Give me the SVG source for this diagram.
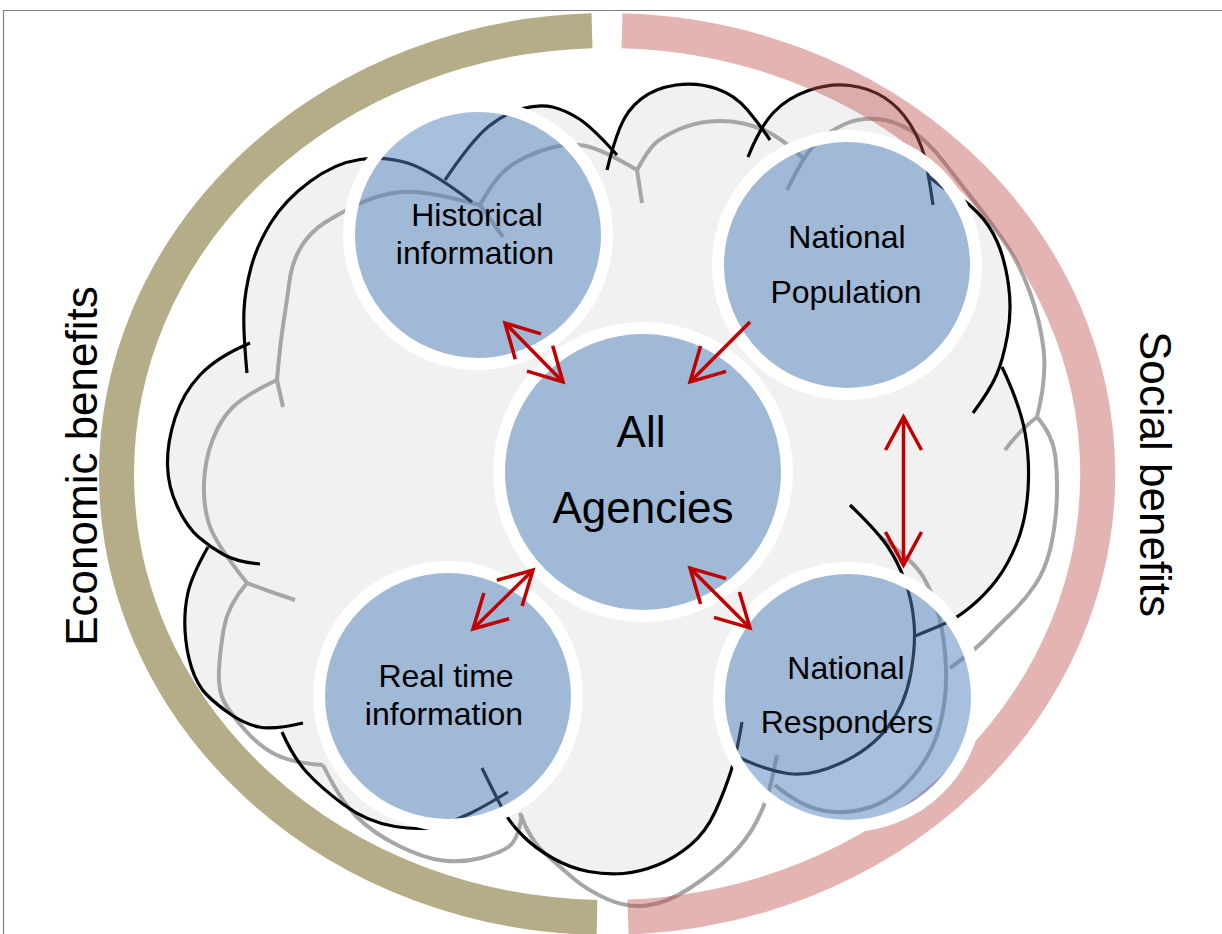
<svg xmlns="http://www.w3.org/2000/svg" width="1222" height="934" viewBox="0 0 1222 934">
<defs>
<style>
.frame{fill:none;stroke:#7f7f7f;stroke-width:1.2}
.cloudfill{fill:#f1f1f1;stroke:none}
.shd{fill:none;stroke:#a6a6a6;stroke-width:4;stroke-linejoin:round}
.blk{fill:none;stroke:#000;stroke-width:3.2}
.ring{fill:none;stroke-width:35}
.node circle{fill:#4f81bd;fill-opacity:.5;stroke:#fff;stroke-width:12}
.lbl{font-family:"Liberation Sans",Arial,sans-serif;font-size:32px;fill:#000;text-anchor:middle}
.big{font-size:44px}
.arr{fill:none;stroke:#c00000;stroke-width:3.5}
</style>
<marker id="ah" markerUnits="userSpaceOnUse" orient="auto-start-reverse" overflow="visible" markerWidth="1" markerHeight="1" refX="0" refY="0">
<path d="M-33,-18 L0,0 L-33,18" fill="none" stroke="#c00000" stroke-width="3.5" stroke-linejoin="miter"/>
</marker>
</defs>
<rect width="1222" height="934" fill="#fff"/>
<path class="frame" d="M3.5,934 L3.5,10.5 L1222,10.5"/>

<g id="cloud">
<path class="cloudfill" d="M247,345 L245,300 257,245 285,200 335,163 385,156 430,170 447,178 472,140 505,113 540,104 565,110 592,127 613,150 627,110 655,88 697,82 735,95 760,127 787,98 830,83 870,88 900,108 920,140 930,177 945,190 965,200 990,225 1005,260 1012,310 1002,367 1020,405 1030,460 1026,520 1008,565 985,595 957,618 913,637 905,705 870,750 810,777 760,768 738,757 725,790 706,832 675,858 640,872 607,875 570,868 535,848 512,825 495,800 485,806 457,820 423,831 367,822 320,787 293,757 283,730 245,724 217,705 197,685 186,650 184,610 192,575 210,548 187,527 168,487 167,443 183,393 217,357 Z"/>
<g id="cloud-shadow">
<path class="shd" d="M277,380 Q280,345 283.5,322.5 Q287,300 289.5,281 Q292,262 301,247 Q310,232 325,222.5 Q340,213 356.5,205 Q373,197 390,193.5 Q407,190 428.5,193.5 Q450,197 480,205"/>
<path class="shd" d="M480,205 L503,237"/>
<path class="shd" d="M480,205 Q490,187 498.5,177 Q507,167 520,160 Q533,153 550,148 Q567,143 583.5,145.5 Q600,148 637,170"/>
<path class="shd" d="M637,170 L642,203"/>
<path class="shd" d="M637,170 Q648,150 655,143.5 Q662,137 677.5,130 Q693,123 710,121.5 Q727,120 743.5,123.5 Q760,127 773.5,135 Q787,143 805,160"/>
<path class="shd" d="M787,190 Q798,168 805,157 Q812,146 823.5,137 Q835,128 847.5,123 Q860,118 876.5,119 Q893,120 910,130 Q927,140 943.5,161.5 Q960,183 976.5,204 Q993,225 1006.5,245 Q1020,265 1030,292.5 Q1040,320 1043.5,348.5 Q1047,377 1037,417"/>
<path class="shd" d="M1037,417 Q1020,430 1005,450"/>
<path class="shd" d="M1037,417 Q1053,435 1055.5,457.5 Q1058,480 1056.5,505 Q1055,530 1050,550 Q1045,570 1035,585 Q1025,600 1011,613.5 Q997,627 986,638.5 Q975,650 950,668"/>
<path class="shd" d="M880,537 Q913,560 923,576.5 Q933,593 939,616.5 Q945,640 946,668.5 Q947,697 940,725 Q933,753 913,776.5 Q893,800 869,807.5 Q845,815 822.5,810.5 Q800,806 775,785"/>
<path class="shd" d="M520,813 Q530,840 545,853.5 Q560,867 573.5,878.5 Q587,890 607,899 Q627,908 647,905.5 Q667,903 690,888 Q713,873 730,856.5 Q747,840 756,822.5 Q765,805 768.5,792.5 Q772,780 777,755"/>
<path class="shd" d="M323,765 Q340,800 356.5,816.5 Q373,833 398,845.5 Q423,858 442.5,860.5 Q462,863 481,858 Q500,853 509,846.5 Q518,840 522,815"/>
<path class="shd" d="M247,583 Q228,605 224,627.5 Q220,650 219,670 Q218,690 224,701.5 Q230,713 245,730 Q260,747 276.5,755 Q293,763 323,765"/>
<path class="shd" d="M277,380 Q245,395 232.5,407.5 Q220,420 212.5,440 Q205,460 204,482.5 Q203,505 209,524 Q215,543 247,583"/>
<path class="shd" d="M277,380 L283,407"/>
<path class="shd" d="M247,583 Q270,592 295,600"/>
</g>
<g id="cloud-outline">
<path class="blk" d="M247,373 Q243,330 244,310 Q245,290 251,267.5 Q257,245 271,222.5 Q285,200 310,181.5 Q335,163 360,159.5 Q385,156 407.5,163 Q430,170 472,202"/>
<path class="blk" d="M445,180 Q472,140 488.5,126.5 Q505,113 522.5,108.5 Q540,104 552.5,107 Q565,110 578.5,118.5 Q592,127 617,155"/>
<path class="blk" d="M607,170 Q613,145 620,127.5 Q627,110 641,99 Q655,88 676,85 Q697,82 716,88.5 Q735,95 747.5,110 Q760,125 770,140"/>
<path class="blk" d="M748,157 Q760,127 773.5,112.5 Q787,98 808.5,90.5 Q830,83 850,85.5 Q870,88 885,98 Q900,108 910,124 Q920,140 924,155 Q928,170 933,205"/>
<path class="blk" d="M928,176 Q945,190 955,195 Q965,200 977.5,212.5 Q990,225 997.5,242.5 Q1005,260 1008.5,285 Q1012,310 1007.5,335 Q1003,360 996.5,375 Q990,390 973,413"/>
<path class="blk" d="M1002,367 Q1020,405 1025,432.5 Q1030,460 1028,490 Q1026,520 1017,542.5 Q1008,565 996.5,580 Q985,595 971,606.5 Q957,618 946,623 Q935,628 915,636"/>
<path class="blk" d="M850,505 Q878,532 888,547 Q898,562 905,581 Q912,600 914,622.5 Q916,645 910.5,675 Q905,705 887.5,727.5 Q870,750 840,763.5 Q810,777 787.5,773.5 Q765,770 738,757"/>
<path class="blk" d="M742,722 Q737,752 731,771 Q725,790 715.5,811 Q706,832 690.5,845 Q675,858 657.5,865 Q640,872 623.5,873.5 Q607,875 588.5,871.5 Q570,868 552.5,858 Q535,848 523.5,836.5 Q512,825 506,815 Q500,805 482,768"/>
<path class="blk" d="M282,732 Q293,757 306.5,772 Q320,787 343.5,804.5 Q367,822 395,826.5 Q423,831 440,825.5 Q457,820 471,813 Q485,806 508,792"/>
<path class="blk" d="M208,547 Q192,575 188,592.5 Q184,610 185,630 Q186,650 191.5,667.5 Q197,685 207,695 Q217,705 231,714.5 Q245,724 259,727 Q273,730 303,723"/>
<path class="blk" d="M250,343 Q217,357 200,375 Q183,393 175,418 Q167,443 167.5,465 Q168,487 177.5,507 Q187,527 198.5,537 Q210,547 223.5,554.5 Q237,562 260,564"/>
</g>
</g>

<g id="benefit-rings">
<path id="economic-ring" class="ring" stroke="#948a54" stroke-opacity="0.7" d="M592,30.7 A490.5,443.5 0 0 0 597,917.4"/>
<path id="social-ring" class="ring" stroke="#c0504d" stroke-opacity="0.43" d="M622,30.7 A490.5,443.5 0 0 1 628,917.1"/>
</g>

<g id="node-historical" class="node"><circle cx="478" cy="235" r="129"/><text class="lbl" x="477" y="226">Historical</text><text class="lbl" x="475" y="264">information</text></g>
<g id="node-population" class="node"><circle cx="847" cy="265" r="129"/><text class="lbl" x="847" y="248">National</text><text class="lbl" x="846" y="303">Population</text></g>
<g id="node-agencies" class="node"><circle cx="643" cy="472" r="144"/><text class="lbl big" x="641" y="447">All</text><text class="lbl big" x="643" y="523">Agencies</text></g>
<g id="node-realtime" class="node"><circle cx="448" cy="696" r="129"/><text class="lbl" x="446" y="687">Real time</text><text class="lbl" x="444" y="725">information</text></g>
<g id="node-responders" class="node"><circle cx="848" cy="697" r="129"/><text class="lbl" x="846" y="679">National</text><text class="lbl" x="847" y="733">Responders</text></g>

<g id="connectors">
<line class="arr" x1="505" y1="323" x2="563" y2="382" marker-start="url(#ah)" marker-end="url(#ah)"/>
<line class="arr" x1="750" y1="322" x2="690" y2="382" marker-end="url(#ah)"/>
<line class="arr" x1="903.5" y1="417" x2="903.5" y2="565" marker-start="url(#ah)" marker-end="url(#ah)"/>
<line class="arr" x1="533" y1="570" x2="473" y2="629" marker-start="url(#ah)" marker-end="url(#ah)"/>
<line class="arr" x1="690" y1="568" x2="750" y2="628" marker-start="url(#ah)" marker-end="url(#ah)"/>
</g>

<g id="side-labels">
<text class="lbl big" transform="translate(97,466) rotate(-90)">Economic benefits</text>
<text class="lbl big" transform="translate(1140,474) rotate(90)">Social benefits</text>
</g>
</svg>
